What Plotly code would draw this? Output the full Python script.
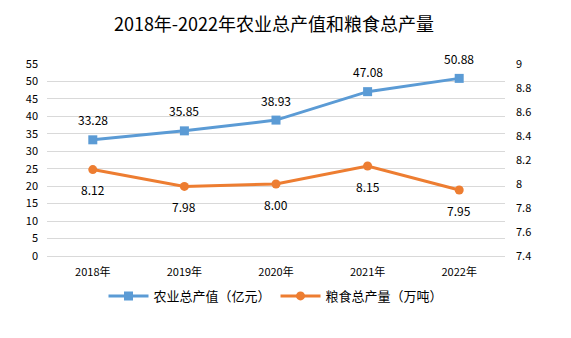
import plotly.graph_objects as go

years = ["2018年", "2019年", "2020年", "2021年", "2022年"]
output_value = [33.28, 35.85, 38.93, 47.08, 50.88]
grain = [8.12, 7.98, 8.00, 8.15, 7.95]
grain_labels = ["8.12", "7.98", "8.00", "8.15", "7.95"]
left_ticks = list(range(0, 60, 5))
right_ticks = [7.4, 7.6, 7.8, 8.0, 8.2, 8.4, 8.6, 8.8, 9.0]
right_tick_text = ["7.4", "7.6", "7.8", "8", "8.2", "8.4", "8.6", "8.8", "9"]

FONT = "Noto Sans CJK SC, Noto Sans, sans-serif"
fig = go.Figure()
fig.add_trace(go.Scatter(
    x=years, y=output_value, name="农业总产值（亿元）",
    mode="lines+markers",
    line=dict(color="#5B9BD5", width=3),
    marker=dict(symbol="square", size=9, color="#5B9BD5"),
    yaxis="y",
))
fig.add_trace(go.Scatter(
    x=years, y=grain, name="粮食总产量（万吨）",
    mode="lines+markers",
    line=dict(color="#ED7D31", width=3),
    marker=dict(symbol="circle", size=9, color="#ED7D31"),
    yaxis="y2",
))

annotations = []
for x, v in zip(years, output_value):
    annotations.append(dict(x=x, y=v, xref="x", yref="y", text=f"{v:.2f}",
                            showarrow=False, yshift=20, font=dict(size=12, color="#000")))
for x, v, t in zip(years, grain, grain_labels):
    annotations.append(dict(x=x, y=v, xref="x", yref="y2", text=t,
                            showarrow=False, yshift=-20, font=dict(size=12, color="#000")))

fig.update_layout(
    width=571, height=338,
    margin=dict(l=47, r=66, t=64, b=82),
    paper_bgcolor="white", plot_bgcolor="white",
    font=dict(family=FONT, size=11, color="#000"),
    title=dict(text="2018年-2022年农业总产值和粮食总产量", x=274 / 571, xanchor="center",
               y=1 - 25 / 338, yanchor="middle", font=dict(size=18, color="#000", family=FONT)),
    xaxis=dict(range=[-0.5, 4.5], showgrid=False, showline=True, linecolor="#D9D9D9", ticks="",
               tickfont=dict(size=11), ticklabelstandoff=6),
    yaxis=dict(range=[0, 55], tickvals=left_ticks, showgrid=True, gridcolor="#D9D9D9",
               gridwidth=1, zeroline=False, ticks="", tickfont=dict(size=11),
               ticklabelstandoff=8),
    yaxis2=dict(range=[7.4, 9.0], tickvals=right_ticks, ticktext=right_tick_text,
                overlaying="y", side="right", showgrid=False, zeroline=False,
                ticks="", tickfont=dict(size=11), ticklabelstandoff=10),
    legend=dict(orientation="h", x=0.5, xanchor="center", y=-0.13, yanchor="top",
                font=dict(size=13), itemwidth=40),
    annotations=annotations,
    showlegend=True,
)
fig.write_html("out.html")
